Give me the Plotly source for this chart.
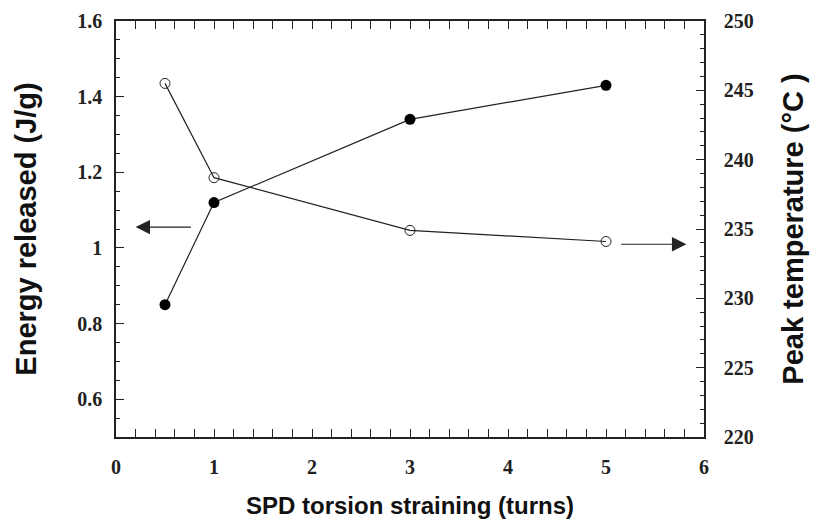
import plotly.graph_objects as go

# values
turns = [0.5, 1, 3, 5]
energy = [0.85, 1.12, 1.34, 1.43]          # J/g, left axis, filled circles
peak_temp = [245.5, 238.7, 234.9, 234.1]   # degC, right axis, open circles

# arrows pointing each curve to its axis (head, tail)
left_arrow = dict(x=0.2, y=1.055, ax=0.78)
right_arrow = dict(x=5.82, y=233.9, ax=5.14)

tick_font = dict(family='Liberation Serif, Times New Roman, serif', size=20, color='#222', weight='bold')
ink = '#222'


def title_font(size):
    return dict(family='Liberation Sans, Arial, sans-serif', size=size, color='#111', weight='bold')


fig = go.Figure()
fig.add_trace(go.Scatter(x=turns, y=energy, mode='lines+markers',
                         line=dict(color=ink, width=1.2),
                         marker=dict(symbol='circle', size=11, color='black'),
                         showlegend=False))
fig.add_trace(go.Scatter(x=turns, y=peak_temp, yaxis='y2', mode='lines+markers',
                         line=dict(color=ink, width=1.2),
                         marker=dict(symbol='circle-open', size=10, color=ink, line=dict(width=1)),
                         showlegend=False))

fig.add_annotation(x=left_arrow['x'], y=left_arrow['y'], ax=left_arrow['ax'], ay=left_arrow['y'],
                   xref='x', yref='y', axref='x', ayref='y', text='', showarrow=True,
                   arrowhead=2, arrowsize=2.4, arrowwidth=1.2, arrowcolor=ink)
fig.add_annotation(x=right_arrow['x'], y=right_arrow['y'], ax=right_arrow['ax'], ay=right_arrow['y'],
                   xref='x', yref='y2', axref='x', ayref='y2', text='', showarrow=True,
                   arrowhead=2, arrowsize=2.4, arrowwidth=1.2, arrowcolor=ink)

# x title as an annotation, placed by pixel offset below the plot
fig.add_annotation(x=0.5, y=0, xref='paper', yref='paper', yanchor='middle', yshift=-68,
                   text='SPD torsion straining (turns)', showarrow=False, font=title_font(24))

# page body has an 8px margin, so the figure sits 8px right/down in the window
fig.update_layout(
    width=818, height=529,
    margin=dict(l=108, r=122, t=13, b=100),
    plot_bgcolor='white', paper_bgcolor='white',
    xaxis=dict(range=[0, 6], dtick=1, ticks='inside', ticklen=8, tickwidth=1.2, tickcolor=ink,
               showline=True, linecolor=ink, linewidth=1.5, mirror='allticks', automargin=False,
               showgrid=False, zeroline=False, tickfont=tick_font, ticklabelstandoff=11,
               minor=dict(dtick=0.2, ticks='inside', ticklen=4, tickcolor=ink)),
    yaxis=dict(range=[0.5, 1.6], tickvals=[0.6, 0.8, 1.0, 1.2, 1.4, 1.6],
               ticktext=['0.6', '0.8', '1', '1.2', '1.4', '1.6'],
               ticks='inside', ticklen=8, tickwidth=1.2, tickcolor=ink,
               showline=True, linecolor=ink, linewidth=1.5, mirror=False, automargin=False,
               showgrid=False, zeroline=False, tickfont=tick_font, ticklabelstandoff=8,
               minor=dict(dtick=0.05, ticks='inside', ticklen=4, tickcolor=ink),
               title=dict(text='Energy released (J/g)', font=title_font(29), standoff=32)),
    yaxis2=dict(range=[220, 250], dtick=5, overlaying='y', side='right',
                ticks='inside', ticklen=8, tickwidth=1.2, tickcolor=ink,
                showline=True, linecolor=ink, linewidth=1.5, automargin=False,
                showgrid=False, zeroline=False, tickfont=tick_font, ticklabelstandoff=14,
                minor=dict(dtick=1, ticks='inside', ticklen=4, tickcolor=ink),
                title=dict(text='Peak temperature (°C )', font=title_font(29), standoff=30)),
)

fig.write_html("out.html")
